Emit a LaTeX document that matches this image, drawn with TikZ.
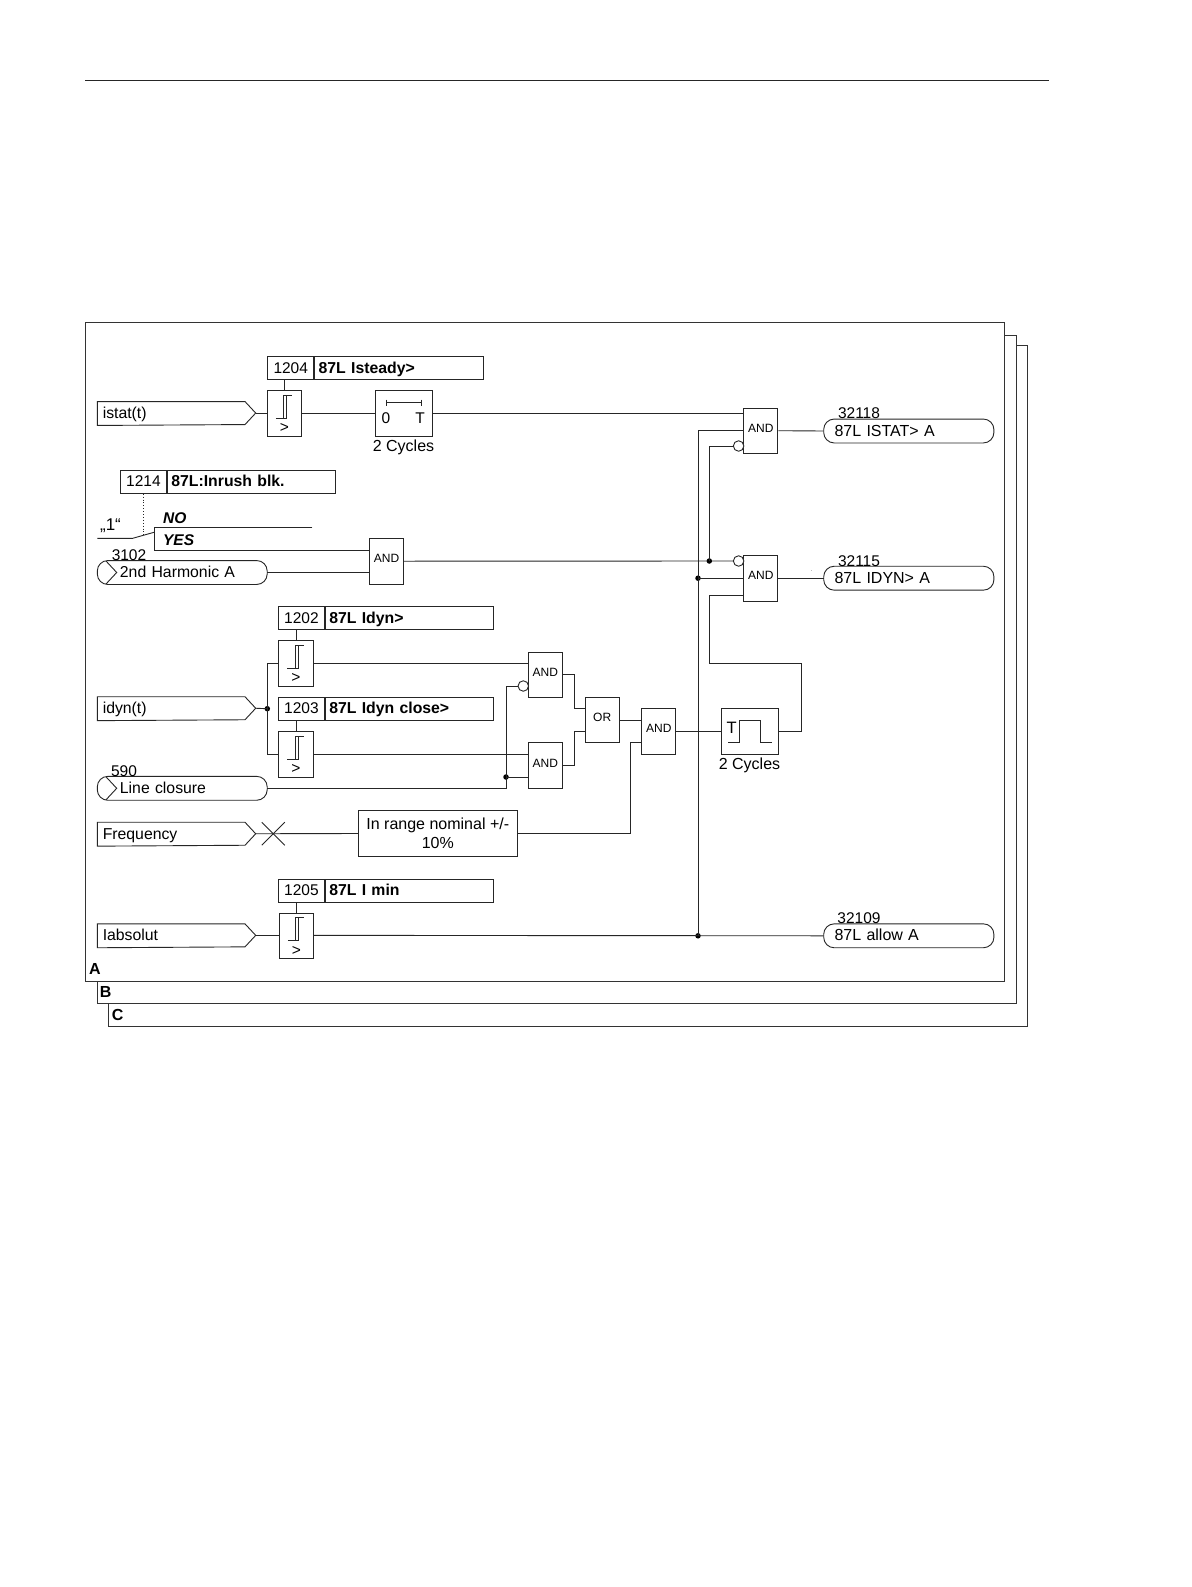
\documentclass[tikz,border=0pt]{standalone}
\usepackage{fontspec}
\usetikzlibrary{calc}
\setmainfont{Liberation Sans}
\begin{document}
\begin{tikzpicture}[x=1pt,y=-1pt,line width=0.9pt,
  ln/.style={draw=black!85},
  gate/.style={draw=black!85,fill=white,minimum width=34pt,minimum height=45.5pt,inner sep=0pt,font=\fontsize{12}{12}\selectfont},
  thr/.style={draw=black!85,fill=white,minimum width=34.5pt,minimum height=45.5pt,inner sep=0pt},
  numbox/.style={draw=black!85,fill=white,minimum height=23pt,minimum width=46pt,inner sep=0pt,text height=12pt,text depth=2pt,font=\fontsize{15.5}{15.5}\selectfont},
  titlebox/.style={draw=black!85,fill=white,minimum height=23pt,inner sep=0pt,text height=12pt,text depth=2pt,align=left,font=\fontsize{15.8}{15.8}\selectfont\bfseries},
  sig/.style={minimum height=23pt,inner sep=0pt,text height=12pt,text depth=2pt,align=left,font=\fontsize{15.8}{15.8}\selectfont},
  lab/.style={inner sep=0pt,font=\fontsize{15.5}{15.5}\selectfont},
  dotn/.style={circle,fill=black,inner sep=0pt,minimum size=5.5pt},
  inv/.style={circle,draw=black!85,fill=white,inner sep=0pt,minimum size=10.5pt},
  frame/.style={draw=black!80,fill=white}]
\useasboundingbox (0,0) rectangle (1191,1587);
\newcommand{\hyst}[1]{\begin{scope}[shift={(#1.north west)}]
  \draw[ln] (9,28)--(20,28)--(20,5);\draw[ln] (16.7,28)--(16.7,5)--(25.4,5);
  \node[lab] at (17.5,38) {>};\end{scope}}
\newcommand{\insig}[4]{% name, y, text, tipname
  \node[sig,minimum width=148pt,text width=142pt,anchor=west] (#1) at (97.3,#2) {\hspace*{2pt}#3};
  \draw[ln] (#1.north west) -- ++(147.7,0) -- ++(10.7,11.5) coordinate (#4) -- ++(-10.7,11.5) -- (#1.south west) -- cycle;}
\newcommand{\pillbox}[5]{% name, x, y, width, text
  \node[sig,minimum width=#4 pt,text width=#4 pt,anchor=west] (#1) at (#2,#3) {#5};
  \draw[ln,rounded corners=10.5pt] (#1.south west) rectangle (#1.north east);}

% stacked frames and top rule
\coordinate (ruleL) at (85,80); \coordinate (ruleR) at (1049,80);
\draw[black!85] (ruleL) -- (ruleR);
\draw[frame] (108.3,345.5) rectangle (1027.7,1026);
\draw[frame] (97.2,335) rectangle (1016,1003.7);
\draw[frame] (85.5,322.5) rectangle (1004.6,981);
\node[lab,font=\fontsize{16}{16}\selectfont\bfseries] (lA) at (95,969) {A};
\node[lab,font=\fontsize{16}{16}\selectfont\bfseries] (lB) at (105.7,992) {B};
\node[lab,font=\fontsize{16}{16}\selectfont\bfseries] (lC) at (117.7,1015) {C};

% inputs
\insig{istat}{413.5}{istat(t)}{istatTip}
\insig{idyn}{708.7}{idyn(t)}{idynTip}
\insig{freq}{834.2}{Frequency}{freqTip}
\insig{iabs}{935.8}{Iabsolut}{iabsTip}
\pillbox{harm}{97.3}{572.5}{169}{\hspace*{22.2pt}2nd Harmonic A}
\draw[ln] (106,561) -- (116.7,572.5) -- (106,584);
\node[lab] (n3102) at (129,555) {3102};
\pillbox{lclose}{97.3}{788.3}{169}{\hspace*{22.2pt}Line closure}
\draw[ln] (106,776.8) -- (116.7,788.3) -- (106,799.8);
\node[lab] (n590) at (124,770.7) {590};

% outputs
\pillbox{oistat}{823.7}{431}{169.3}{\hspace*{10.4pt}\fontsize{16}{16}\selectfont 87L ISTAT> A}
\node[lab] (n32118) at (859,413.3) {32118};
\pillbox{oidyn}{823.7}{578.2}{169.3}{\hspace*{10.4pt}\fontsize{16}{16}\selectfont 87L IDYN> A}
\node[lab] (n32115) at (859,560.7) {32115};
\pillbox{oallow}{823.7}{935.8}{169.3}{\hspace*{10.4pt}\fontsize{16}{16}\selectfont 87L allow A}
\node[lab] (n32109) at (859,918.3) {32109};
\node[inner sep=0pt,font=\fontsize{5}{5}\selectfont] (speck) at (811.5,571) {.};

% parameters
\node[numbox,anchor=west] (p1204n) at (267.3,368) {1204};
\node[titlebox,anchor=west,minimum width=169pt,text width=163pt] (p1204t) at (p1204n.east) {\hspace*{1pt}87L Isteady>};
\node[numbox,anchor=west] (p1214n) at (120,481.8) {1214};
\node[titlebox,anchor=west,minimum width=168pt,text width=162pt] (p1214t) at (p1214n.east) {\hspace*{1pt}87L:Inrush blk.};
\node[numbox,anchor=west] (p1202n) at (278,618) {1202};
\node[titlebox,anchor=west,minimum width=168pt,text width=162pt] (p1202t) at (p1202n.east) {\hspace*{1pt}87L Idyn>};
\node[numbox,anchor=west] (p1203n) at (278,708.7) {1203};
\node[titlebox,anchor=west,minimum width=168pt,text width=162pt] (p1203t) at (p1203n.east) {\hspace*{1pt}87L Idyn close>};
\node[numbox,anchor=west] (p1205n) at (278,890.5) {1205};
\node[titlebox,anchor=west,minimum width=168pt,text width=162pt] (p1205t) at (p1205n.east) {\hspace*{1pt}87L I min};

% thresholds
\node[thr] (th1) at (284.5,413.5) {};
\node[thr] (th2) at (296,663.5) {};
\node[thr] (th3) at (296,754.3) {};
\node[thr] (th4) at (296.5,936) {};
\hyst{th1}\hyst{th2}\hyst{th3}\hyst{th4}
\draw[ln] (th1.north) -- (th1.north |- p1204n.south);
\draw[ln] (th2.north) -- (th2.north |- p1202n.south);
\draw[ln] (th3.north) -- (th3.north |- p1203n.south);
\draw[ln] (th4.north) -- (th4.north |- p1205n.south);

% timers
\node[draw=black!85,fill=white,minimum width=57pt,minimum height=45.5pt,inner sep=0pt] (timer) at (403.8,413.5) {};
\coordinate (barL) at (386.3,402.7); \coordinate (barR) at (421.7,402.7);
\draw[ln] (barL) -- (barR);
\draw[ln] (386.3,399.7) -- (386.3,405.7); \draw[ln] (421.7,399.7) -- (421.7,405.7);
\node[lab] (t0) at (386,418.3) {0};
\node[lab] (tT) at (420,418.3) {T};
\node[lab,font=\fontsize{16}{16}\selectfont] (tc1) at (403.5,447.5) {2 Cycles};
\node[draw=black!85,fill=white,minimum width=56.5pt,minimum height=46pt,inner sep=0pt] (pulse) at (749.8,731.3) {};
\draw[ln] (728.3,742.7) -- (739.5,742.7) -- (739.5,720) -- (760.5,720) -- (760.5,742.7) -- (771.5,742.7);
\node[lab,font=\fontsize{16.5}{16.5}\selectfont] (pT) at (731.6,728) {T};
\node[lab,font=\fontsize{16}{16}\selectfont] (tc2) at (749.5,765) {2 Cycles};

% gates
\node[gate] (and1) at (760.8,430.7) {\raisebox{5pt}{AND}};
\node[gate] (and2) at (760.8,578.2) {\raisebox{5pt}{AND}};
\node[gate] (and3) at (545.3,674.7) {\raisebox{5pt}{AND}};
\node[gate] (and4) at (545.3,765.4) {\raisebox{5pt}{AND}};
\node[gate] (or1) at (602.2,720) {\raisebox{6pt}{OR}};
\node[gate] (and5) at (658.8,731.3) {\raisebox{5pt}{AND}};
\node[gate] (andh) at (386.5,561.2) {\raisebox{5pt}{AND}};
\node[draw=black!85,fill=white,minimum width=159pt,minimum height=45.6pt,inner sep=0pt,align=center,font=\fontsize{16}{18.5}\selectfont] (range) at (437.8,833.5) {In range nominal +/-\\10\%};

% switch
\node[lab,font=\fontsize{15.5}{15.5}\selectfont\itshape\bfseries,anchor=west] (sNO) at (162.7,518) {NO};
\node[lab,font=\fontsize{15.5}{15.5}\selectfont\itshape\bfseries,anchor=west] (sYES) at (162.7,540) {YES};
\node[lab,font=\fontsize{17}{17}\selectfont] (one) at (110.5,526) {„1“};
\coordinate (swIn) at (97.3,538.3); \coordinate (swA) at (132.7,538.3); \coordinate (swB) at (154,532.3);
\coordinate (swNO) at (154,527.3); \coordinate (swNOend) at (312.3,527.3); \coordinate (swYES) at (154,550);
\coordinate (swDot) at (143.3,535.3);
\draw[ln] (swIn) -- (swA) -- (swB);
\draw[ln] (swNOend) -- (swNO) -- (swYES) -- (andh.west |- swYES);
\draw[black!85,dotted] (p1214n.south -| swDot) -- (swDot);
\draw[ln] (harm.east) -- (andh.west |- harm.east);

% inverted inputs
\node[inv] (i1) at (738.6,446) {};
\node[inv] (i2) at (738.6,561) {};
\node[inv] (i3) at (523.3,686) {};

% connectors
\draw[ln] (istatTip) -- (th1.west |- istatTip);
\draw[ln] (th1.east) -- (timer.west);
\draw[ln] (timer.east) -- (and1.west |- timer.east);
\draw[ln] (and1.east) -- (oistat.west);
\draw[ln] (and2.east) -- (oidyn.west);
\draw[ln] (andh.east) -- (i2.west);
\node[dotn] (d1) at (709.3,561) {};
\draw[ln] (d1.center) |- (i1.west);
\node[dotn] (d2) at (698,578.2) {};
\node[dotn] (d3) at (698,935.8) {};
\draw[ln] (d3.center) |- (and1.west |- 0,430.7);
\draw[ln] (d2.center) -- (and2.west |- d2.center);
\draw[ln] (iabsTip) -- (th4.west |- iabsTip);
\draw[ln] (th4.east |- iabsTip) -- (oallow.west);
\node[dotn] (d4) at (267.3,708.7) {};
\draw[ln] (idynTip) -- (d4.center);
\draw[ln] (th2.west) -| (d4.center) |- (th3.west);
\draw[ln] (th2.east) -- (and3.west |- th2.east);
\draw[ln] (th3.east) -- (and4.west |- th3.east);
\node[dotn] (d5) at (506,777) {};
\draw[ln] (lclose.east) -| (d5.center);
\draw[ln] (d5.center) -- (and4.west |- d5.center);
\draw[ln] (d5.center) |- (i3.west);
\draw[ln] (and3.east) -- ++(11.2,0) |- (or1.west |- 0,708.7);
\draw[ln] (and4.east) -- ++(11.2,0) |- (or1.west |- 0,731);
\draw[ln] (or1.east) -- (and5.west |- or1.east);
\draw[ln] (and5.east) -- (pulse.west);
\draw[ln] (range.east) -| (630.4,742.3) -- (and5.west |- 0,742.3);
\draw[ln] (freqTip) -- (range.west);
\coordinate (xc) at (273.3,833.7);
\draw[ln] ($(xc)+(-11.5,-11.5)$) -- ($(xc)+(11.5,11.5)$);
\draw[ln] ($(xc)+(-11.5,11.5)$) -- ($(xc)+(11.5,-11.5)$);
\draw[ln] (pulse.east) -- ++(22.6,0) |- (709.3,663.3) |- (and2.west |- 0,595.3);
\end{tikzpicture}
\end{document}
